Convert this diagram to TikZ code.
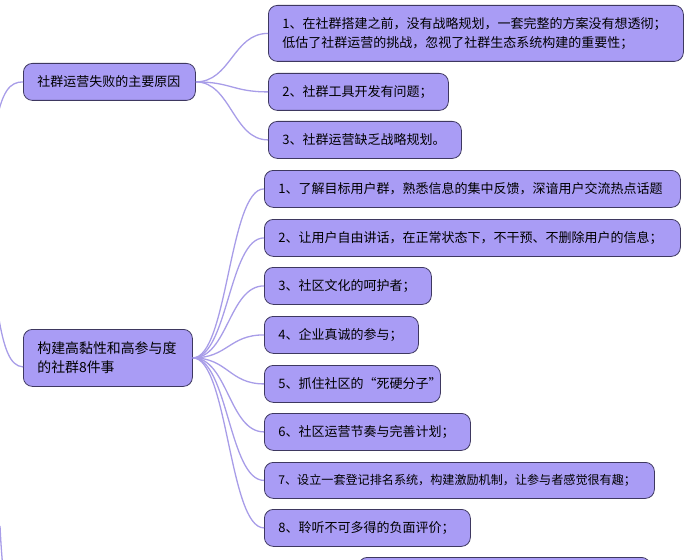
\documentclass[tikz,border=0pt]{standalone}
\usepackage{fontspec}
\setmainfont{Noto Sans CJK SC}
\definecolor{boxfill}{HTML}{A99CF5}
\definecolor{boxline}{HTML}{3E3860}
\definecolor{linkc}{HTML}{A89DE8}
\tikzset{
  mmbox/.style={draw=boxline, fill=boxfill, line width=0.8pt, rounded corners=9pt,
    inner xsep=14pt, inner ysep=0pt, align=left, anchor=north west,
    font=\fontsize{13}{19}\selectfont, text=black},
  link/.style={draw=linkc, line width=1.3pt}
}
\newcommand{\bx}[6]{\node[mmbox, text width=#4-28pt, minimum width=#4, minimum height=#5] (#1) at (#2,#3) {#6};}
\begin{document}
\begin{tikzpicture}[x=1pt,y=-1pt]
\useasboundingbox (0,0) rectangle (690,559);
\clip (0,0) rectangle (690,559);
% main nodes
\bx{m1}{23}{63}{172pt}{37pt}{社群运营失败的主要原因}
\bx{m2}{23}{329}{169pt}{57pt}{\fontsize{13.9}{19}\selectfont 构建高黏性和高参与度\\的社群8件事}
% children of m1
\bx{a1}{268}{5}{415pt}{56pt}{1、在社群搭建之前，没有战略规划，一套完整的方案没有想透彻；\\低估了社群运营的挑战，忽视了社群生态系统构建的重要性；}
\bx{a2}{268}{73}{180pt}{37pt}{2、社群工具开发有问题；}
\bx{a3}{268}{121}{193pt}{37pt}{3、社群运营缺乏战略规划。}
% children of m2
\bx{b1}{264}{170}{416pt}{37pt}{1、了解目标用户群，熟悉信息的集中反馈，深谙用户交流热点话题}
\bx{b2}{264}{219}{416pt}{37pt}{2、让用户自由讲话，在正常状态下，不干预、不删除用户的信息；}
\bx{b3}{264}{267}{167pt}{37pt}{3、社区文化的呵护者；}
\bx{b4}{264}{316}{154pt}{37pt}{4、企业真诚的参与；}
\bx{b5}{264}{365}{176pt}{37pt}{5、抓住社区的“死硬分子”}
\bx{b6}{264}{413}{206pt}{37pt}{6、社区运营节奏与完善计划；}
\bx{b7}{264}{462}{390pt}{36pt}{\fontsize{12.1}{19}\selectfont 7、设立一套登记排名系统，构建激励机制，让参与者感觉很有趣；}
\bx{b8}{264}{509}{206pt}{37pt}{8、聆听不可多得的负面评价；}
% partially visible node at bottom
\bx{c0}{358}{557}{292pt}{37pt}{}
% connectors from main nodes to children
\foreach \t in {a1,a2,a3}
  \draw[link] (m1.east) .. controls +(35,0) and +(-35,0) .. (\t.west);
\foreach \t in {b1,b2,b3,b4,b5,b6,b7,b8}
  \draw[link] (m2.east) .. controls +(35,0) and +(-35,0) .. (\t.west);
% connectors from the off-picture root
\coordinate (r1) at (-5,128);
\coordinate (r2) at (-4,300);
\coordinate (r3) at (0,526);
\coordinate (r3b) at (3,570);
\coordinate (m2in) at ([yshift=-9pt]m2.west);
\draw[link] (r1) .. controls (2,90) and (10,82) .. (m1.west);
\draw[link] (r2) .. controls (3,350) and (10,366) .. (m2in);
\draw[link] (r3) .. controls (1,545) .. (r3b);
\end{tikzpicture}
\end{document}
